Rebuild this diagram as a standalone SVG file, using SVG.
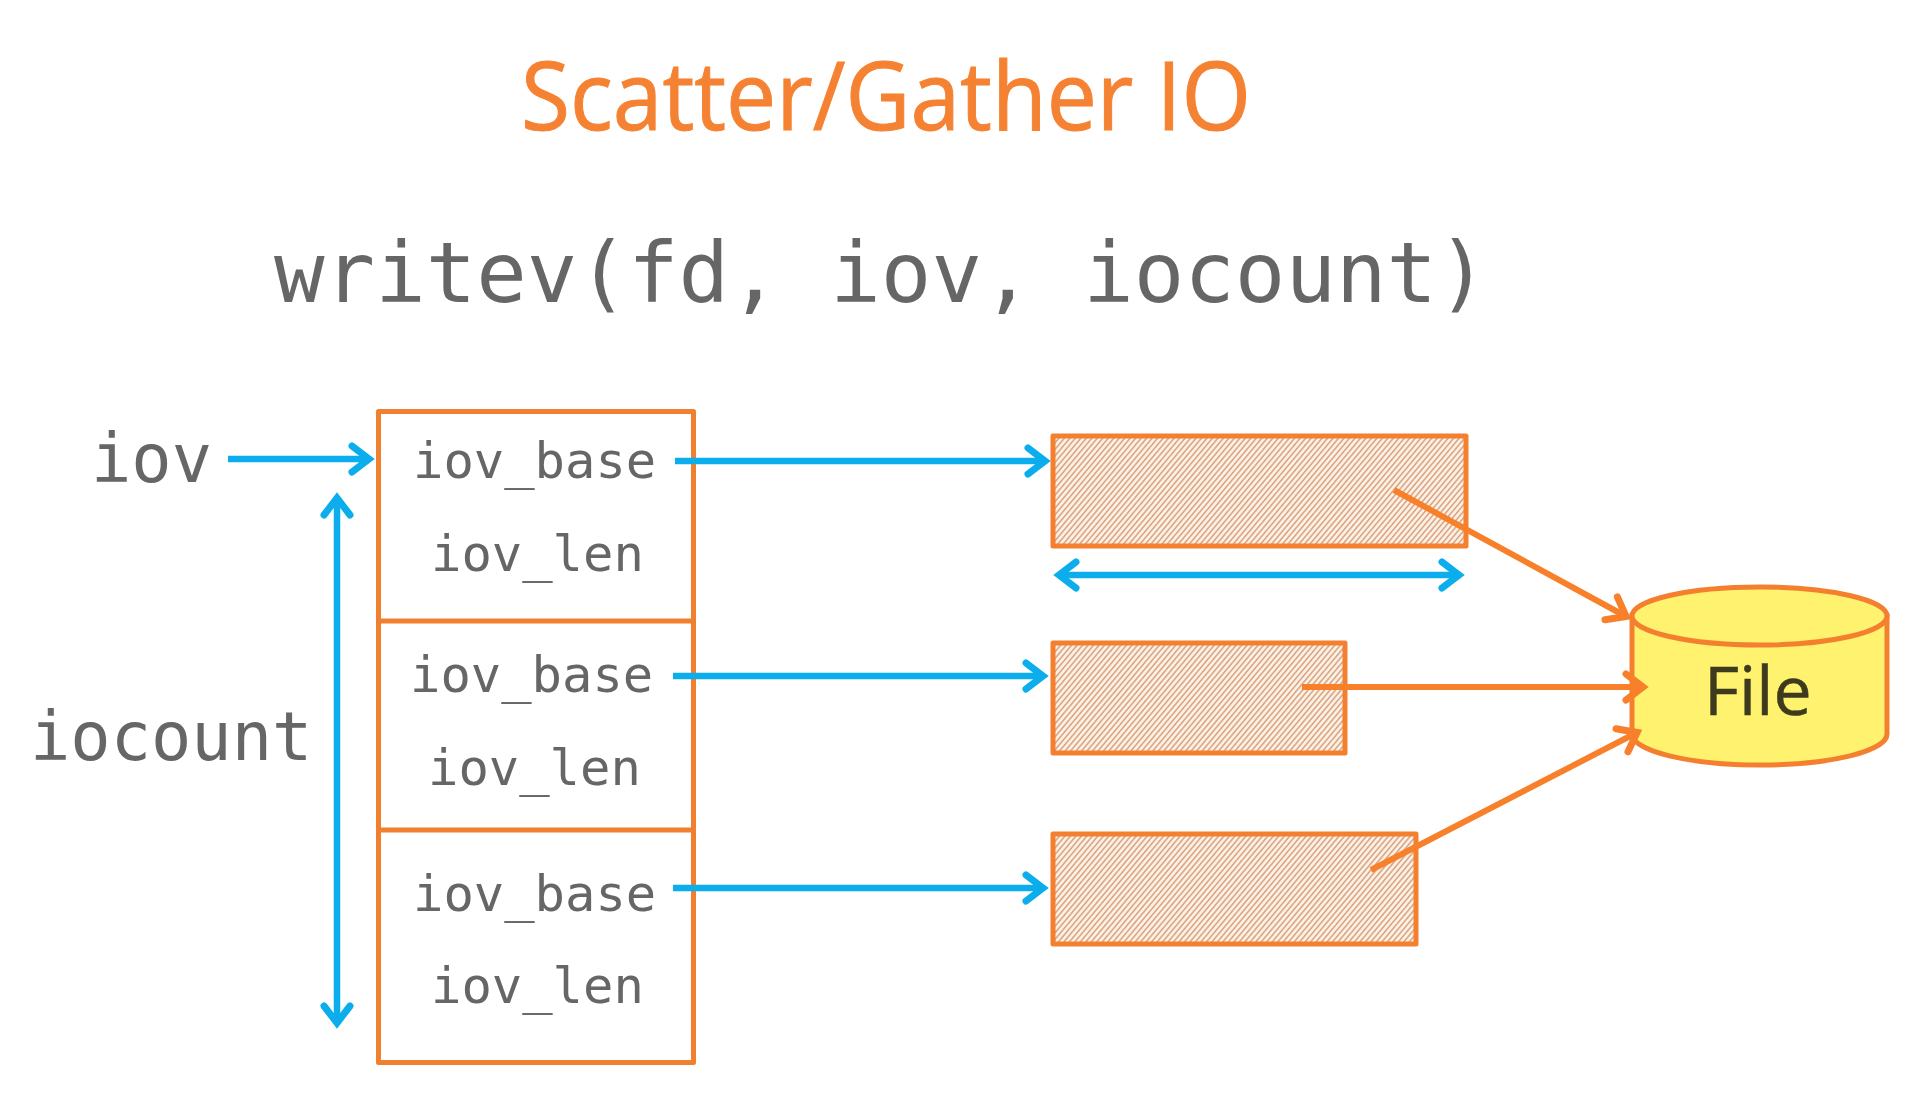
<svg xmlns="http://www.w3.org/2000/svg" width="1912" height="1098" viewBox="0 0 1912 1098">
<style>
.o{fill:none;stroke:#F0802F;stroke-width:5;stroke-linejoin:round}
.h{fill:url(#hatch);stroke:#F4802F;stroke-width:5;stroke-linejoin:round}
.m{font-family:"DejaVu Sans Mono","Liberation Mono",monospace;fill:#666666}
.f{font-size:50.500px}
.b{fill:none;stroke:#0CADEC;stroke-width:6.500;marker-end:url(#ba)}
.bb{fill:none;stroke:#0CADEC;stroke-width:6.500;marker-end:url(#ba);marker-start:url(#ba)}
.a{fill:none;stroke:#F8802B;stroke-width:6;marker-end:url(#oa)}
</style>
<defs>
<pattern id="hatch" width="4.200" height="4.200" patternUnits="userSpaceOnUse" patternTransform="rotate(-50)">
<rect width="4.200" height="4.200" fill="#FDF1E6"/>
<rect width="4.200" height="1.600" fill="#D9A785"/>
</pattern>
<marker id="ba" markerUnits="userSpaceOnUse" markerWidth="40" markerHeight="40" refX="29" refY="20" orient="auto-start-reverse">
<path d="M11 7 L28 20 L11 33" fill="none" stroke="#0CADEC" stroke-width="7" stroke-linecap="round" stroke-linejoin="miter"/>
</marker>
<marker id="oa" markerUnits="userSpaceOnUse" markerWidth="40" markerHeight="40" refX="29" refY="20" orient="auto">
<path d="M11 7 L28 20 L11 33" fill="none" stroke="#F8802B" stroke-width="7" stroke-linecap="round"/>
</marker>
</defs>
<rect width="1912" height="1098" fill="#FFFFFF"/>
<g id="title"><text x="521" y="130" font-family="'Open Sans','Noto Sans',sans-serif" font-size="96" fill="#F58232" stroke="#F58232" stroke-width="1" textLength="730" lengthAdjust="spacingAndGlyphs">Scatter/Gather IO</text></g>
<g id="call"><text class="m" x="274" y="302" font-size="84">writev(fd, iov, iocount)</text></g>
<g id="iov-label"><text class="m" x="91" y="482" font-size="67">iov</text></g>
<g id="iocount-label"><text class="m" x="30" y="760" font-size="67">iocount</text></g>
<g id="iovec-array">
<rect class="o" x="378.500" y="411.500" width="315" height="651"/>
<path class="o" d="M378.500 621H693.500M378.500 830H693.500"/>
</g>
<g id="entry-1"><text class="m f" x="413" y="478">iov_base</text><text class="m f" x="431" y="571">iov_len</text></g>
<g id="entry-2"><text class="m f" x="410" y="692">iov_base</text><text class="m f" x="428" y="785">iov_len</text></g>
<g id="entry-3"><text class="m f" x="413" y="911">iov_base</text><text class="m f" x="431" y="1003">iov_len</text></g>
<g id="buffer-1"><rect class="h" x="1053" y="436" width="413" height="110"/></g>
<g id="buffer-2"><rect class="h" x="1053" y="643" width="292" height="110"/></g>
<g id="buffer-3"><rect class="h" x="1053" y="834" width="363" height="110"/></g>
<g id="file">
<path d="M1632 616V734C1632 751 1689 765 1760 765S1887 751 1887 734V616Z" fill="#FFF26E" stroke="#F4802F" stroke-width="5"/>
<ellipse cx="1759.500" cy="616" rx="127.500" ry="29" fill="#FFF26E" stroke="#F4802F" stroke-width="5"/>
<text x="1704" y="715" font-family="'Open Sans','Noto Sans',sans-serif" font-size="68" fill="#3D3A1E" stroke="#3D3A1E" stroke-width="0.500">File</text>
</g>
<g id="connectors">
<path class="b" d="M228 459H370"/>
<path class="bb" d="M337 497V1024"/>
<path class="b" d="M675 461H1046"/>
<path class="b" d="M673 676H1044"/>
<path class="b" d="M673 888H1044"/>
<path class="bb" d="M1058 575H1460"/>
<path class="a" d="M1394 490L1627 617"/>
<path class="a" d="M1302 687H1644"/>
<path class="a" d="M1371 870L1638 732"/>
</g>
</svg>
